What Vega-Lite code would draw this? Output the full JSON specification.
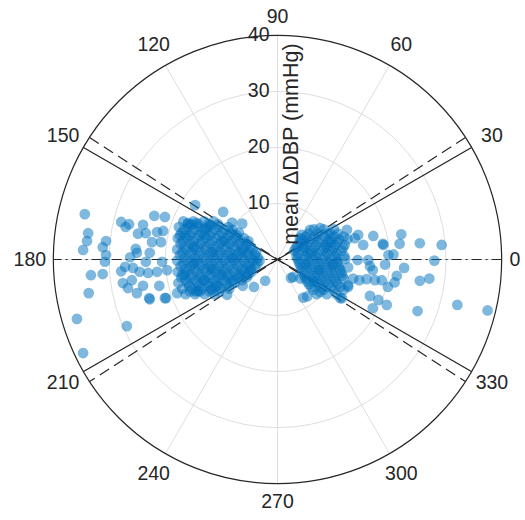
{
  "$schema": "https://vega.github.io/schema/vega-lite/v6.json",
  "width": 493,
  "height": 493,
  "autosize": {"type": "none"},
  "padding": {"left": 31, "top": 13, "right": 1, "bottom": 14},
  "config": {"view": {"stroke": null}, "font": "Liberation Sans"},
  "datasets": {
    "rings": [{"r": 10}, {"r": 20}, {"r": 30}],
    "outer": [{"r": 40}],
    "spokes": [
      {"x": 40, "y": 0, "x2": -40, "y2": 0},
      {"x": 34.64, "y": 20, "x2": -34.64, "y2": -20},
      {"x": 20, "y": 34.64, "x2": -20, "y2": -34.64},
      {"x": 0, "y": 40, "x2": 0, "y2": -40},
      {"x": -20, "y": 34.64, "x2": 20, "y2": -34.64},
      {"x": -34.64, "y": 20, "x2": 34.64, "y2": -20}
    ],
    "refs": [
      {"x": 34.64, "y": 20, "x2": -34.64, "y2": -20, "style": "solid"},
      {"x": -34.64, "y": 20, "x2": 34.64, "y2": -20, "style": "solid"},
      {"x": 33.55, "y": 21.79, "x2": -33.55, "y2": -21.79, "style": "dashed"},
      {"x": -33.55, "y": 21.79, "x2": 33.55, "y2": -21.79, "style": "dashed"},
      {"x": 40, "y": 0, "x2": -40, "y2": 0, "style": "dashdot"}
    ],
    "angles": [
      {"angle": 0, "label": "0"}, {"angle": 30, "label": "30"}, {"angle": 60, "label": "60"},
      {"angle": 90, "label": "90"}, {"angle": 120, "label": "120"}, {"angle": 150, "label": "150"},
      {"angle": 180, "label": "180"}, {"angle": 210, "label": "210"}, {"angle": 240, "label": "240"},
      {"angle": 270, "label": "270"}, {"angle": 300, "label": "300"}, {"angle": 330, "label": "330"}
    ],
    "rticks": [{"r": 10}, {"r": 20}, {"r": 30}, {"r": 40}],
    "pts": [
      {"x": -34.4, "y": 8.1}, {"x": -33.8, "y": 4.7}, {"x": -34.0, "y": 3.3}, {"x": -34.7, "y": 1.7},
      {"x": -30.6, "y": 3.3}, {"x": -31.2, "y": 2.2}, {"x": -30.6, "y": 0.8}, {"x": -30.8, "y": -0.4},
      {"x": -33.3, "y": -2.8}, {"x": -31.2, "y": -2.6}, {"x": -33.7, "y": -6.0}, {"x": -35.8, "y": -10.6},
      {"x": -26.9, "y": -11.9}, {"x": -34.7, "y": -16.7}, {"x": -27.9, "y": 6.7}, {"x": -26.5, "y": 6.3},
      {"x": -27.1, "y": 5.8}, {"x": -24.0, "y": 6.2}, {"x": -22.0, "y": 7.8}, {"x": -20.1, "y": 7.6},
      {"x": -24.9, "y": 4.6}, {"x": -23.5, "y": 4.7}, {"x": -22.4, "y": 3.1}, {"x": -20.8, "y": 3.1},
      {"x": -21.5, "y": 4.9}, {"x": -20.4, "y": 5.1}, {"x": -25.3, "y": 1.9}, {"x": -25.1, "y": 1.2},
      {"x": -26.3, "y": 0.4}, {"x": -22.8, "y": 1.2}, {"x": -23.5, "y": -0.4}, {"x": -27.2, "y": -1.3},
      {"x": -27.9, "y": -2.1}, {"x": -25.8, "y": -1.5}, {"x": -24.6, "y": -2.2}, {"x": -23.1, "y": -2.4},
      {"x": -21.5, "y": -2.2}, {"x": -27.6, "y": -4.2}, {"x": -26.7, "y": -5.1}, {"x": -24.0, "y": -4.7},
      {"x": -25.1, "y": -6.0}, {"x": -22.8, "y": -7.1}, {"x": -21.1, "y": -4.7}, {"x": -20.1, "y": -6.9},
      {"x": -20.6, "y": -0.4}, {"x": -19.7, "y": -1.9}, {"x": -26.0, "y": -3.7},
      {"x": -14.7, "y": 9.7}, {"x": -9.7, "y": 8.5}, {"x": -16.0, "y": 6.5}, {"x": -14.4, "y": 6.5},
      {"x": -12.8, "y": 5.6}, {"x": -8.1, "y": 6.6}, {"x": -6.3, "y": 6.4}, {"x": -9.0, "y": -6.3},
      {"x": -6.2, "y": -4.7}, {"x": -4.2, "y": -4.9}, {"x": -2.2, "y": -3.8}, {"x": -22.9, "y": -6.9},
      {"x": -19.9, "y": -6.9}, {"x": -17.9, "y": -6.0}, {"x": -14.2, "y": -5.6}, {"x": -11.7, "y": -5.4},
      {"x": -16.8, "y": 6.8}, {"x": -15.0, "y": 6.8}, {"x": -13.1, "y": 6.8}, {"x": -11.4, "y": 6.8},
      {"x": -17.6, "y": 5.8}, {"x": -15.9, "y": 5.8}, {"x": -14.1, "y": 5.8}, {"x": -12.3, "y": 5.8}, {"x": -10.5, "y": 5.8}, {"x": -8.8, "y": 5.8},
      {"x": -17.1, "y": 4.8}, {"x": -15.4, "y": 4.8}, {"x": -13.6, "y": 4.8}, {"x": -11.8, "y": 4.8}, {"x": -10.0, "y": 4.8}, {"x": -8.3, "y": 4.8}, {"x": -6.9, "y": 4.8},
      {"x": -17.8, "y": 3.8}, {"x": -16.1, "y": 3.8}, {"x": -14.3, "y": 3.8}, {"x": -12.6, "y": 3.8}, {"x": -10.8, "y": 3.8}, {"x": -9.1, "y": 3.8}, {"x": -7.4, "y": 3.8}, {"x": -6.0, "y": 3.8},
      {"x": -17.3, "y": 2.8}, {"x": -15.6, "y": 2.8}, {"x": -13.8, "y": 2.8}, {"x": -12.1, "y": 2.8}, {"x": -10.3, "y": 2.8}, {"x": -8.6, "y": 2.8}, {"x": -6.9, "y": 2.8}, {"x": -5.4, "y": 2.8},
      {"x": -17.9, "y": 1.8}, {"x": -16.2, "y": 1.8}, {"x": -14.5, "y": 1.8}, {"x": -12.8, "y": 1.8}, {"x": -11.0, "y": 1.8}, {"x": -9.3, "y": 1.8}, {"x": -7.6, "y": 1.8}, {"x": -6.0, "y": 1.8}, {"x": -4.5, "y": 1.8},
      {"x": -17.4, "y": 0.8}, {"x": -15.7, "y": 0.8}, {"x": -14.0, "y": 0.8}, {"x": -12.2, "y": 0.8}, {"x": -10.5, "y": 0.8}, {"x": -8.8, "y": 0.8}, {"x": -7.1, "y": 0.8}, {"x": -5.4, "y": 0.8}, {"x": -4.0, "y": 0.8},
      {"x": -17.9, "y": -0.2}, {"x": -16.1, "y": -0.2}, {"x": -14.4, "y": -0.2}, {"x": -12.7, "y": -0.2}, {"x": -11.0, "y": -0.2}, {"x": -9.3, "y": -0.2}, {"x": -7.6, "y": -0.2}, {"x": -5.9, "y": -0.2}, {"x": -4.3, "y": -0.2}, {"x": -3.2, "y": -0.2},
      {"x": -17.3, "y": -1.2}, {"x": -15.6, "y": -1.2}, {"x": -13.9, "y": -1.2}, {"x": -12.2, "y": -1.2}, {"x": -10.5, "y": -1.2}, {"x": -8.8, "y": -1.2}, {"x": -7.1, "y": -1.2}, {"x": -5.4, "y": -1.2}, {"x": -4.0, "y": -1.2},
      {"x": -17.8, "y": -2.2}, {"x": -16.1, "y": -2.2}, {"x": -14.4, "y": -2.2}, {"x": -12.7, "y": -2.2}, {"x": -11.0, "y": -2.2}, {"x": -9.3, "y": -2.2}, {"x": -7.6, "y": -2.2}, {"x": -5.9, "y": -2.2}, {"x": -4.6, "y": -2.2},
      {"x": -17.2, "y": -3.2}, {"x": -15.5, "y": -3.2}, {"x": -13.8, "y": -3.2}, {"x": -12.1, "y": -3.2}, {"x": -10.4, "y": -3.2}, {"x": -8.7, "y": -3.2}, {"x": -7.0, "y": -3.2}, {"x": -5.5, "y": -3.2},
      {"x": -17.7, "y": -4.2}, {"x": -16.0, "y": -4.2}, {"x": -14.3, "y": -4.2}, {"x": -12.6, "y": -4.2}, {"x": -10.9, "y": -4.2}, {"x": -9.2, "y": -4.2}, {"x": -7.6, "y": -4.2},
      {"x": -17.0, "y": -5.2}, {"x": -15.3, "y": -5.2}, {"x": -13.6, "y": -5.2}, {"x": -11.9, "y": -5.2}, {"x": -10.2, "y": -5.2}, {"x": -8.6, "y": -5.2},
      {"x": -16.4, "y": -6.2}, {"x": -14.7, "y": -6.2}, {"x": -13.0, "y": -6.2}, {"x": -11.3, "y": -6.2},
      {"x": -16.5, "y": 4.3}, {"x": -13.0, "y": 4.4}, {"x": -9.5, "y": 3.3}, {"x": -15.0, "y": 2.3}, {"x": -11.5, "y": 1.3},
      {"x": -8.0, "y": 0.3}, {"x": -14.9, "y": -0.7}, {"x": -11.8, "y": -1.7}, {"x": -9.9, "y": -2.7}, {"x": -16.6, "y": -2.7},
      {"x": -13.2, "y": -3.7}, {"x": -8.2, "y": -3.7}, {"x": -14.6, "y": -5.7}, {"x": -11.0, "y": -4.7}, {"x": -6.5, "y": -2.7},
      {"x": -6.3, "y": 1.3}, {"x": -12.0, "y": 6.2}, {"x": -15.4, "y": 6.3}, {"x": -9.5, "y": 5.3}, {"x": -5.0, "y": -1.8},
      {"x": -16.0, "y": 6.3}, {"x": -14.2, "y": 6.3}, {"x": -12.4, "y": 6.3}, {"x": -10.6, "y": 6.3},
      {"x": -16.7, "y": 5.3}, {"x": -14.9, "y": 5.3}, {"x": -13.1, "y": 5.3}, {"x": -11.3, "y": 5.3}, {"x": -8.0, "y": 5.3},
      {"x": -17.4, "y": 4.3}, {"x": -15.6, "y": 4.3}, {"x": -13.9, "y": 4.3}, {"x": -12.1, "y": 4.3}, {"x": -10.4, "y": 4.3}, {"x": -8.7, "y": 4.3}, {"x": -7.3, "y": 4.3},
      {"x": -16.9, "y": 3.3}, {"x": -15.1, "y": 3.3}, {"x": -13.4, "y": 3.3}, {"x": -11.7, "y": 3.3}, {"x": -10.0, "y": 3.3}, {"x": -8.2, "y": 3.3}, {"x": -6.6, "y": 3.3}, {"x": -5.2, "y": 3.3},
      {"x": -16.6, "y": 2.3}, {"x": -14.8, "y": 2.3}, {"x": -13.0, "y": 2.3}, {"x": -11.3, "y": 2.3}, {"x": -9.6, "y": 2.3}, {"x": -7.9, "y": 2.3}, {"x": -6.2, "y": 2.3}, {"x": -4.9, "y": 2.3},
      {"x": -17.0, "y": 1.3}, {"x": -15.3, "y": 1.3}, {"x": -13.6, "y": 1.3}, {"x": -11.9, "y": 1.3}, {"x": -10.2, "y": 1.3}, {"x": -8.5, "y": 1.3}, {"x": -6.8, "y": 1.3}, {"x": -5.2, "y": 1.3}, {"x": -3.8, "y": 1.3},
      {"x": -16.6, "y": 0.3}, {"x": -14.9, "y": 0.3}, {"x": -13.2, "y": 0.3}, {"x": -11.5, "y": 0.3}, {"x": -9.8, "y": 0.3}, {"x": -8.1, "y": 0.3}, {"x": -6.4, "y": 0.3}, {"x": -4.8, "y": 0.3}, {"x": -3.5, "y": 0.3},
      {"x": -16.8, "y": -0.7}, {"x": -15.1, "y": -0.7}, {"x": -13.4, "y": -0.7}, {"x": -11.7, "y": -0.7}, {"x": -10.0, "y": -0.7}, {"x": -8.3, "y": -0.7}, {"x": -6.6, "y": -0.7}, {"x": -4.9, "y": -0.7}, {"x": -3.6, "y": -0.7},
      {"x": -16.5, "y": -1.7}, {"x": -14.8, "y": -1.7}, {"x": -13.1, "y": -1.7}, {"x": -11.4, "y": -1.7}, {"x": -9.7, "y": -1.7}, {"x": -8.0, "y": -1.7}, {"x": -6.3, "y": -1.7}, {"x": -4.7, "y": -1.7},
      {"x": -17.0, "y": -2.7}, {"x": -15.3, "y": -2.7}, {"x": -13.6, "y": -2.7}, {"x": -11.9, "y": -2.7}, {"x": -10.2, "y": -2.7}, {"x": -8.5, "y": -2.7}, {"x": -6.8, "y": -2.7}, {"x": -5.2, "y": -2.7},
      {"x": -16.4, "y": -3.7}, {"x": -14.7, "y": -3.7}, {"x": -13.0, "y": -3.7}, {"x": -11.3, "y": -3.7}, {"x": -9.6, "y": -3.7}, {"x": -7.9, "y": -3.7}, {"x": -6.3, "y": -3.7},
      {"x": -15.8, "y": -4.7}, {"x": -14.1, "y": -4.7}, {"x": -12.4, "y": -4.7}, {"x": -10.7, "y": -4.7}, {"x": -9.0, "y": -4.7},
      {"x": -15.6, "y": -5.7}, {"x": -13.8, "y": -5.7}, {"x": -12.1, "y": -5.7}, {"x": -10.4, "y": -5.7},
      {"x": 6.5, "y": 5.4}, {"x": 8.3, "y": 5.4}, {"x": 10.1, "y": 5.4},
      {"x": 5.5, "y": 4.6}, {"x": 7.2, "y": 4.6}, {"x": 9.0, "y": 4.6}, {"x": 10.8, "y": 4.6},
      {"x": 4.3, "y": 3.6}, {"x": 5.9, "y": 3.6}, {"x": 7.6, "y": 3.6}, {"x": 9.3, "y": 3.6}, {"x": 11.0, "y": 3.6}, {"x": 12.5, "y": 3.6},
      {"x": 3.6, "y": 2.6}, {"x": 5.2, "y": 2.6}, {"x": 6.9, "y": 2.6}, {"x": 8.6, "y": 2.6}, {"x": 10.3, "y": 2.6}, {"x": 12.0, "y": 2.6},
      {"x": 3.0, "y": 1.6}, {"x": 4.6, "y": 1.6}, {"x": 6.3, "y": 1.6}, {"x": 8.0, "y": 1.6}, {"x": 9.7, "y": 1.6}, {"x": 11.4, "y": 1.6},
      {"x": 3.4, "y": 0.6}, {"x": 5.1, "y": 0.6}, {"x": 6.8, "y": 0.6}, {"x": 8.5, "y": 0.6}, {"x": 10.2, "y": 0.6}, {"x": 11.9, "y": 0.6},
      {"x": 3.8, "y": -0.4}, {"x": 5.5, "y": -0.4}, {"x": 7.2, "y": -0.4}, {"x": 8.9, "y": -0.4}, {"x": 10.6, "y": -0.4},
      {"x": 4.2, "y": -1.4}, {"x": 5.9, "y": -1.4}, {"x": 7.6, "y": -1.4}, {"x": 9.3, "y": -1.4}, {"x": 11.0, "y": -1.4}, {"x": 12.6, "y": -1.4},
      {"x": 4.6, "y": -2.4}, {"x": 6.3, "y": -2.4}, {"x": 8.0, "y": -2.4}, {"x": 9.7, "y": -2.4}, {"x": 11.4, "y": -2.4},
      {"x": 5.0, "y": -3.4}, {"x": 6.7, "y": -3.4}, {"x": 8.4, "y": -3.4}, {"x": 10.1, "y": -3.4}, {"x": 11.8, "y": -3.4},
      {"x": 5.6, "y": -4.4}, {"x": 7.3, "y": -4.4}, {"x": 9.0, "y": -4.4}, {"x": 10.7, "y": -4.4},
      {"x": 6.4, "y": -5.4}, {"x": 8.2, "y": -5.4}, {"x": 10.0, "y": -5.4},
      {"x": 7.0, "y": -6.2}, {"x": 8.8, "y": -6.2}, {"x": 10.5, "y": -6.2},
      {"x": 6.0, "y": 1.1}, {"x": 8.8, "y": 2.1}, {"x": 7.4, "y": -1.9}, {"x": 9.9, "y": -0.9}, {"x": 6.5, "y": -3.9},
      {"x": 5.0, "y": -0.9}, {"x": 9.5, "y": 3.1}, {"x": 4.3, "y": 4.4}, {"x": 4.0, "y": 3.8},
      {"x": 5.0, "y": 4.1}, {"x": 6.7, "y": 4.1}, {"x": 8.4, "y": 4.1}, {"x": 10.1, "y": 4.1}, {"x": 11.8, "y": 4.1},
      {"x": 4.0, "y": 3.1}, {"x": 5.6, "y": 3.1}, {"x": 7.3, "y": 3.1}, {"x": 9.0, "y": 3.1}, {"x": 10.7, "y": 3.1},
      {"x": 3.3, "y": 2.1}, {"x": 4.9, "y": 2.1}, {"x": 6.6, "y": 2.1}, {"x": 8.3, "y": 2.1}, {"x": 10.0, "y": 2.1}, {"x": 11.7, "y": 2.1},
      {"x": 3.7, "y": 1.1}, {"x": 5.4, "y": 1.1}, {"x": 7.1, "y": 1.1}, {"x": 8.8, "y": 1.1}, {"x": 10.5, "y": 1.1},
      {"x": 3.6, "y": 0.1}, {"x": 5.3, "y": 0.1}, {"x": 7.0, "y": 0.1}, {"x": 8.7, "y": 0.1}, {"x": 10.4, "y": 0.1}, {"x": 12.1, "y": 0.1},
      {"x": 4.0, "y": -0.9}, {"x": 5.7, "y": -0.9}, {"x": 7.4, "y": -0.9}, {"x": 9.1, "y": -0.9}, {"x": 10.8, "y": -0.9},
      {"x": 4.4, "y": -1.9}, {"x": 6.1, "y": -1.9}, {"x": 7.8, "y": -1.9}, {"x": 9.5, "y": -1.9}, {"x": 11.2, "y": -1.9},
      {"x": 4.8, "y": -2.9}, {"x": 6.5, "y": -2.9}, {"x": 8.2, "y": -2.9}, {"x": 9.9, "y": -2.9}, {"x": 11.6, "y": -2.9},
      {"x": 5.3, "y": -3.9}, {"x": 7.0, "y": -3.9}, {"x": 8.7, "y": -3.9}, {"x": 10.4, "y": -3.9},
      {"x": 6.0, "y": -4.9}, {"x": 7.8, "y": -4.9}, {"x": 9.5, "y": -4.9}, {"x": 11.2, "y": -4.9},
      {"x": 5.8, "y": 5.3}, {"x": 7.6, "y": 5.6}, {"x": 9.4, "y": 4.7}, {"x": 12.4, "y": 5.3}, {"x": 13.8, "y": 3.8},
      {"x": 14.4, "y": 4.4}, {"x": 15.3, "y": 2.6}, {"x": 17.1, "y": 4.2}, {"x": 18.9, "y": 2.6}, {"x": 22.1, "y": 4.5},
      {"x": 21.8, "y": 2.8}, {"x": 18.8, "y": 2.8}, {"x": 25.4, "y": 2.9}, {"x": 29.3, "y": 2.6}, {"x": 28.0, "y": -0.2},
      {"x": 22.6, "y": -1.5}, {"x": 19.8, "y": 0.8}, {"x": 20.7, "y": 0.9}, {"x": 19.2, "y": -0.9}, {"x": 16.5, "y": -1.2},
      {"x": 17.0, "y": -1.9}, {"x": 16.2, "y": -0.1}, {"x": 14.3, "y": -0.1}, {"x": 21.3, "y": -2.9}, {"x": 25.4, "y": -3.8},
      {"x": 27.1, "y": -3.4}, {"x": 20.9, "y": -4.1}, {"x": 19.7, "y": -4.9}, {"x": 18.6, "y": -3.7}, {"x": 17.4, "y": -3.7},
      {"x": 15.9, "y": -3.5}, {"x": 14.6, "y": -3.7}, {"x": 12.6, "y": -4.9}, {"x": 13.5, "y": -3.4}, {"x": 16.5, "y": -6.5},
      {"x": 18.0, "y": -7.2}, {"x": 19.5, "y": -8.1}, {"x": 17.0, "y": -8.7}, {"x": 25.0, "y": -9.2}, {"x": 32.1, "y": -8.1},
      {"x": 37.5, "y": -9.1}, {"x": 4.6, "y": -6.8}, {"x": 5.3, "y": -6.6}, {"x": 2.4, "y": -3.3}, {"x": 2.8, "y": -3.1},
      {"x": 4.1, "y": -3.4}, {"x": 11.5, "y": -6.9}, {"x": 11.8, "y": -5.4}, {"x": 12.6, "y": -4.6}, {"x": 11.2, "y": -6.9},
      {"x": 7.6, "y": -5.8}, {"x": 4.6, "y": 2.3}
    ]
  },
  "layer": [
    {
      "data": {"name": "rings"},
      "mark": {"type": "arc", "theta": 0, "theta2": 6.2832, "filled": false, "stroke": "#dedede", "strokeWidth": 1},
      "encoding": {
        "radius": {"field": "r", "type": "quantitative", "stack": null, "scale": {"type": "linear", "domain": [0, 40], "range": [0, 224.09], "zero": true}}
      }
    },
    {
      "data": {"name": "spokes"},
      "mark": {"type": "rule", "stroke": "#dedede", "strokeWidth": 1},
      "encoding": {
        "x": {"field": "x", "type": "quantitative", "scale": {"domain": [-44, 44], "nice": false, "zero": false}, "axis": null},
        "y": {"field": "y", "type": "quantitative", "scale": {"domain": [-44, 44], "nice": false, "zero": false}, "axis": null},
        "x2": {"field": "x2"},
        "y2": {"field": "y2"}
      }
    },
    {
      "data": {"name": "outer"},
      "mark": {"type": "arc", "theta": 0, "theta2": 6.2832, "filled": false, "stroke": "#262626", "strokeWidth": 1.2},
      "encoding": {
        "radius": {"field": "r", "type": "quantitative", "stack": null, "scale": {"type": "linear", "domain": [0, 40], "range": [0, 224.09], "zero": true}}
      }
    },
    {
      "data": {"name": "refs"},
      "mark": {"type": "rule", "stroke": "#262626", "strokeWidth": 1.2},
      "encoding": {
        "x": {"field": "x", "type": "quantitative", "scale": {"domain": [-44, 44], "nice": false, "zero": false}, "axis": null},
        "y": {"field": "y", "type": "quantitative", "scale": {"domain": [-44, 44], "nice": false, "zero": false}, "axis": null},
        "x2": {"field": "x2"},
        "y2": {"field": "y2"},
        "strokeDash": {"field": "style", "type": "nominal", "legend": null,
          "scale": {"domain": ["solid", "dashed", "dashdot"], "range": [[1, 0], [11, 6], [10, 4, 2, 4]]}}
      }
    },
    {
      "data": {"name": "pts"},
      "mark": {"type": "point", "filled": true, "color": "#0072BD", "opacity": 0.5, "size": 115, "strokeWidth": 0},
      "encoding": {
        "x": {"field": "x", "type": "quantitative", "scale": {"domain": [-44, 44], "nice": false, "zero": false}, "axis": null},
        "y": {"field": "y", "type": "quantitative", "scale": {"domain": [-44, 44], "nice": false, "zero": false}, "axis": null}
      }
    },
    {
      "data": {"name": "angles"},
      "transform": [{"filter": "datum.angle != 0 && datum.angle != 90 && datum.angle != 270"}],
      "mark": {"type": "text", "fontSize": 19.5, "color": "#262626", "align": "center", "baseline": "middle"},
      "encoding": {
        "theta": {"field": "angle", "type": "quantitative", "stack": null, "scale": {"domain": [90, -270], "range": [0, 6.283185]}},
        "radius": {"datum": 44.2, "type": "quantitative", "scale": {"type": "linear", "domain": [0, 40], "range": [0, 224.09], "zero": true}},
        "text": {"field": "label"}
      }
    },
    {
      "data": {"name": "angles"},
      "transform": [{"filter": "datum.angle == 90 || datum.angle == 270"}],
      "mark": {"type": "text", "fontSize": 19.5, "color": "#262626", "align": "center", "baseline": "middle"},
      "encoding": {
        "theta": {"field": "angle", "type": "quantitative", "stack": null, "scale": {"domain": [90, -270], "range": [0, 6.283185]}},
        "radius": {"datum": 43.2, "type": "quantitative", "scale": {"type": "linear", "domain": [0, 40], "range": [0, 224.09], "zero": true}},
        "text": {"field": "label"}
      }
    },
    {
      "data": {"name": "angles"},
      "transform": [{"filter": "datum.angle == 0"}],
      "mark": {"type": "text", "fontSize": 19.5, "color": "#262626", "align": "center", "baseline": "middle"},
      "encoding": {
        "theta": {"field": "angle", "type": "quantitative", "stack": null, "scale": {"domain": [90, -270], "range": [0, 6.283185]}},
        "radius": {"datum": 42.4, "type": "quantitative", "scale": {"type": "linear", "domain": [0, 40], "range": [0, 224.09], "zero": true}},
        "text": {"field": "label"}
      }
    },
    {
      "data": {"name": "rticks"},
      "mark": {"type": "text", "fontSize": 19.5, "color": "#262626", "align": "right", "baseline": "middle", "dx": -8},
      "encoding": {
        "x": {"datum": 0, "type": "quantitative", "scale": {"domain": [-44, 44], "nice": false, "zero": false}, "axis": null},
        "y": {"field": "r", "type": "quantitative", "scale": {"domain": [-44, 44], "nice": false, "zero": false}, "axis": null},
        "text": {"field": "r", "type": "quantitative"}
      }
    },
    {
      "data": {"values": [{"t": "mean ΔDBP (mmHg)"}]},
      "mark": {"type": "text", "fontSize": 21.5, "color": "#262626", "align": "center", "baseline": "middle", "angle": 270},
      "encoding": {
        "x": {"datum": 2.65, "type": "quantitative", "scale": {"domain": [-44, 44], "nice": false, "zero": false}, "axis": null},
        "y": {"datum": 20.6, "type": "quantitative", "scale": {"domain": [-44, 44], "nice": false, "zero": false}, "axis": null},
        "text": {"field": "t"}
      }
    }
  ]
}
